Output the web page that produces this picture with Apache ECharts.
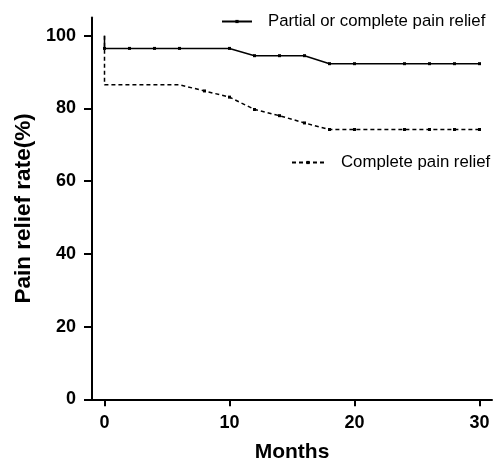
<!DOCTYPE html>
<html><head><meta charset="utf-8">
<script src="https://cdn.jsdelivr.net/npm/echarts@6/dist/echarts.min.js"></script>
<style>html,body{margin:0;padding:0;background:#fff}#c{width:494px;height:461px}</style>
</head><body><div id="c"></div>
<script>
const xTicks = [0, 10, 20, 30];
const yTicks = [0, 20, 40, 60, 80, 100];
const partialMonths = [0, 0, 2, 4, 6, 10, 12, 14, 16, 18, 20, 24, 26, 28, 30];
const partialRate   = [100, 96.5, 96.5, 96.5, 96.5, 96.5, 94.5, 94.5, 94.5, 92.3, 92.3, 92.3, 92.3, 92.3, 92.3];
const completeMonths = [0, 0, 6, 8, 10, 12, 14, 16, 18, 20, 24, 26, 28, 30];
const completeRate   = [100, 86.5, 86.5, 84.8, 83.1, 79.7, 78.0, 76.0, 74.2, 74.2, 74.2, 74.2, 74.2, 74.2];
const seriesNames = ['Partial or complete pain relief', 'Complete pain relief'];

function pts(xs, ys, noSymbolIdx) {
  return xs.map((x, i) => {
    const p = { value: [x, ys[i]] };
    if (noSymbolIdx.includes(i)) p.symbol = 'none';
    return p;
  });
}
const font = 'Liberation Sans, Arial, sans-serif';
const chart = echarts.init(document.getElementById('c'));
chart.setOption({
  animation: false,
  backgroundColor: '#fff',
  grid: { left: 92, right: 2, top: 17.5, bottom: 61.7, containLabel: false, outerBoundsMode: 'none' },
  legend: [
    { data: [seriesNames[0]], left: 216, top: 8, itemWidth: 30, itemHeight: 4,
      textStyle: { fontFamily: font, fontSize: 16.8, color: '#000', padding: [0, 0, 0, 11] } },
    { data: [seriesNames[1]], left: 286, top: 149, itemWidth: 32, itemHeight: 4,
      textStyle: { fontFamily: font, fontSize: 16.8, color: '#000', padding: [0, 0, 0, 12] } }
  ],
  xAxis: {
    type: 'value', min: -1, max: 31,
    name: 'Months', nameLocation: 'middle', nameGap: 42,
    nameTextStyle: { fontFamily: font, fontSize: 21, fontWeight: 'bold', color: '#000' },
    axisLine: { onZero: false, lineStyle: { color: '#000', width: 2 } },
    axisTick: { show: true, length: 7, lineStyle: { color: '#000', width: 2 }, customValues: xTicks },
    axisLabel: { customValues: xTicks, margin: 15, fontFamily: font, fontSize: 18, fontWeight: 'bold', color: '#000' },
    splitLine: { show: false }
  },
  yAxis: {
    type: 'value', min: 0, max: 105,
    name: 'Pain relief rate(%)', nameLocation: 'middle', nameGap: 55,
    nameTextStyle: { fontFamily: font, fontSize: 22.5, fontWeight: 'bold', color: '#000' },
    axisLine: { show: true, onZero: false, lineStyle: { color: '#000', width: 2 } },
    axisTick: { show: true, length: 8, lineStyle: { color: '#000', width: 2 }, customValues: yTicks },
    axisLabel: { customValues: yTicks, margin: 16, fontFamily: font, fontSize: 18, fontWeight: 'bold', color: '#000' },
    splitLine: { show: false }
  },
  series: [
    { name: seriesNames[0], type: 'line', data: pts(partialMonths, partialRate, [0]),
      symbol: 'rect', symbolSize: 3, showAllSymbol: true,
      lineStyle: { color: '#000', width: 1.5 }, itemStyle: { color: '#000' } },
    { name: seriesNames[1], type: 'line', data: pts(completeMonths, completeRate, [0, 1, 2]),
      symbol: 'rect', symbolSize: 3, showAllSymbol: true,
      lineStyle: { color: '#000', width: 1.5, type: [4, 3] }, itemStyle: { color: '#000' } }
  ]
});
</script></body></html>
